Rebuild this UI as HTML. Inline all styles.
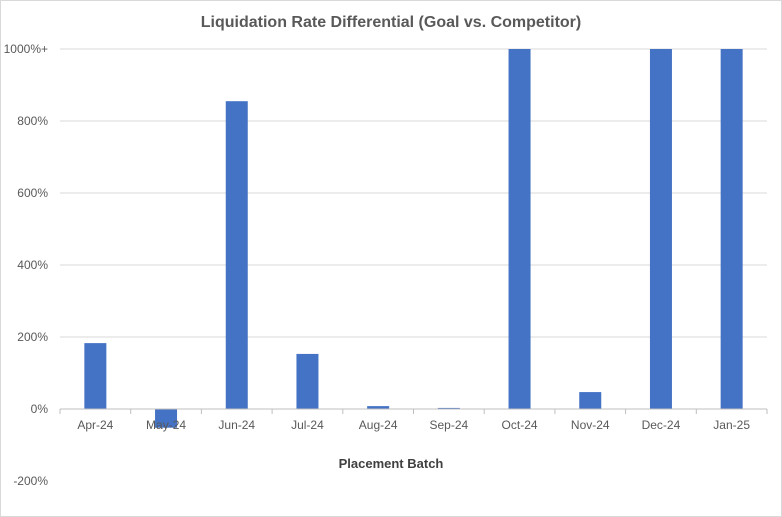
<!DOCTYPE html>
<html><head><meta charset="utf-8"><style>
body{margin:0;background:#fff}
svg{display:block;font-family:"Liberation Sans",sans-serif}
</style></head><body>
<svg id="c" width="782" height="517">
<rect x="0.5" y="0.5" width="781" height="516" fill="#fff" stroke="#d9d9d9"/>
<text x="391" y="27" text-anchor="middle" font-size="16" font-weight="bold" fill="#595959">Liquidation Rate Differential (Goal vs. Competitor)</text>
<text x="391" y="468" text-anchor="middle" font-size="13" font-weight="bold" fill="#404040">Placement Batch</text>
<g id="grid"></g><g id="bars"></g><g id="axis"></g>
</svg>
<script>
const categories=["Apr-24","May-24","Jun-24","Jul-24","Aug-24","Sep-24","Oct-24","Nov-24","Dec-24","Jan-25"];
const values=[183,-52,855,153,8,3,1000,47,1000,1000];
const yTicks=[-200,0,200,400,600,800,1000];
const yTickLabels=["-200%","0%","200%","400%","600%","800%","1000%+"];
const NS="http://www.w3.org/2000/svg";
const L=60,R=767,Y0=409,PX=0.36;
const cw=(R-L)/categories.length;
const y=v=>Y0-v*PX;
const x=i=>L+cw*(i+0.5);
function mk(t,a,p){const e=document.createElementNS(NS,t);for(const k in a)e.setAttribute(k,a[k]);document.getElementById(p).appendChild(e);return e;}
yTicks.forEach((v,i)=>{
 if(v>0){const g=mk("line",{x1:L,x2:R,y1:y(v),y2:y(v),stroke:"#d9d9d9"},"grid");
 
 }
 const t=mk("text",{x:48,y:y(v)+4,"text-anchor":"end","font-size":"12",fill:"#595959"},"axis");
 t.textContent=yTickLabels[i];
 
 
});
values.forEach((v,i)=>{
 const top=Math.min(y(v),Y0),h=Math.abs(y(v)-Y0);
 const b=mk("rect",{x:x(i)-11,y:top,width:22,height:h,fill:"#4472c4"},"bars");
 
 
});
const ax=mk("line",{x1:L,x2:R,y1:Y0,y2:Y0,stroke:"#bfbfbf"},"axis");


for(let i=0;i<=categories.length;i++){
 const tk=mk("line",{x1:L+cw*i,x2:L+cw*i,y1:Y0,y2:Y0+5,stroke:"#bfbfbf"},"axis");
 
 
}
categories.forEach((c,i)=>{
 const t=mk("text",{x:x(i),y:429,"text-anchor":"middle","font-size":"12",fill:"#595959"},"axis");
 t.textContent=c;
 
 
});
</script>
</body></html>
